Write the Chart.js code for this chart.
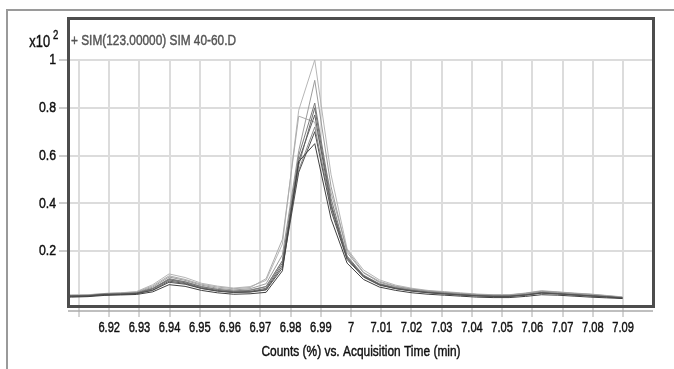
<!DOCTYPE html>
<html>
<head>
<meta charset="utf-8">
<script src="https://cdn.jsdelivr.net/npm/chart.js@4"></script>
<style>
  html, body { margin: 0; padding: 0; background: #fff; }
  #wrap { width: 674px; height: 369px; }
</style>
</head>
<body>
<div id="wrap"><canvas id="chart" width="674" height="369"></canvas></div>
<script>
// acquisition times (min), one scan every ~0.0054 min
const times = [6.9022, 6.9076, 6.9130, 6.9183, 6.9237, 6.9290, 6.9344, 6.9398, 6.9451, 6.9505,
  6.9558, 6.9612, 6.9666, 6.9719, 6.9773, 6.9827, 6.9880, 6.9934, 6.9987, 7.0041,
  7.0094, 7.0148, 7.0202, 7.0255, 7.0309, 7.0362, 7.0416, 7.0470, 7.0523, 7.0577,
  7.0630, 7.0684, 7.0738, 7.0791, 7.0845, 7.0898];

// counts (x10^2), one array per overlaid run
const run1 = [0.007, 0.008, 0.010, 0.015, 0.017, 0.019, 0.030, 0.060, 0.053, 0.036, 0.026, 0.020, 0.022, 0.028, 0.118, 0.575,
  0.650, 0.335, 0.150, 0.082, 0.050, 0.036, 0.026, 0.020, 0.016, 0.012, 0.008, 0.006, 0.006, 0.011, 0.018, 0.016, 0.012, 0.008, 0.005, 0.002];
const run2 = [0.012, 0.012, 0.013, 0.019, 0.020, 0.023, 0.036, 0.070, 0.062, 0.044, 0.033, 0.027, 0.029, 0.038, 0.130, 0.530,
  0.700, 0.370, 0.165, 0.092, 0.058, 0.043, 0.033, 0.026, 0.021, 0.017, 0.013, 0.011, 0.011, 0.016, 0.025, 0.021, 0.017, 0.013, 0.009, 0.004];
const run3 = [0.010, 0.011, 0.012, 0.018, 0.019, 0.022, 0.038, 0.075, 0.065, 0.045, 0.034, 0.028, 0.030, 0.040, 0.140, 0.580,
  0.770, 0.390, 0.170, 0.095, 0.060, 0.044, 0.034, 0.027, 0.022, 0.017, 0.014, 0.011, 0.011, 0.017, 0.025, 0.022, 0.017, 0.013, 0.009, 0.004];
const run4 = [0.013, 0.013, 0.014, 0.020, 0.021, 0.024, 0.042, 0.080, 0.068, 0.048, 0.036, 0.030, 0.032, 0.045, 0.150, 0.560,
  0.800, 0.400, 0.175, 0.098, 0.061, 0.045, 0.035, 0.028, 0.023, 0.018, 0.014, 0.012, 0.012, 0.018, 0.026, 0.023, 0.018, 0.014, 0.010, 0.005];
const run5 = [0.011, 0.012, 0.014, 0.019, 0.021, 0.025, 0.044, 0.085, 0.072, 0.052, 0.040, 0.032, 0.036, 0.052, 0.160, 0.600,
  0.820, 0.420, 0.180, 0.100, 0.063, 0.047, 0.036, 0.029, 0.024, 0.019, 0.015, 0.012, 0.012, 0.018, 0.027, 0.023, 0.018, 0.014, 0.010, 0.005];
const run6 = [0.014, 0.014, 0.015, 0.021, 0.023, 0.026, 0.045, 0.082, 0.072, 0.052, 0.040, 0.034, 0.038, 0.052, 0.160, 0.540,
  0.720, 0.385, 0.172, 0.097, 0.064, 0.048, 0.038, 0.030, 0.025, 0.020, 0.016, 0.013, 0.013, 0.019, 0.028, 0.024, 0.020, 0.016, 0.011, 0.006];
const run7 = [0.015, 0.014, 0.016, 0.021, 0.023, 0.027, 0.050, 0.092, 0.078, 0.058, 0.045, 0.038, 0.043, 0.064, 0.185, 0.620,
  0.915, 0.470, 0.195, 0.110, 0.070, 0.052, 0.041, 0.033, 0.028, 0.023, 0.019, 0.016, 0.016, 0.023, 0.032, 0.028, 0.023, 0.019, 0.013, 0.007];
const run8 = [0.017, 0.017, 0.018, 0.023, 0.026, 0.029, 0.055, 0.097, 0.082, 0.062, 0.050, 0.043, 0.048, 0.085, 0.250, 0.765,
  0.740, 0.445, 0.205, 0.112, 0.074, 0.054, 0.042, 0.034, 0.029, 0.024, 0.019, 0.017, 0.017, 0.024, 0.033, 0.029, 0.024, 0.020, 0.014, 0.008];
const run9 = [0.016, 0.016, 0.017, 0.023, 0.026, 0.031, 0.060, 0.105, 0.090, 0.066, 0.054, 0.046, 0.052, 0.078, 0.230, 0.790,
  1.000, 0.520, 0.210, 0.122, 0.080, 0.058, 0.045, 0.036, 0.031, 0.026, 0.021, 0.018, 0.018, 0.025, 0.035, 0.030, 0.025, 0.021, 0.015, 0.009];

const runColors = ['#404040', '#505050', '#606060', '#6e6e6e', '#7c7c7c', '#8c8c8c', '#9c9c9c', '#acacac', '#b6b6b6'];

const xTicks = [6.91, 6.92, 6.93, 6.94, 6.95, 6.96, 6.97, 6.98, 6.99, 7.00,
  7.01, 7.02, 7.03, 7.04, 7.05, 7.06, 7.07, 7.08, 7.09];
const xTickLabels = ['', '6.92', '6.93', '6.94', '6.95', '6.96', '6.97', '6.98', '6.99', '7',
  '7.01', '7.02', '7.03', '7.04', '7.05', '7.06', '7.07', '7.08', '7.09'];
const yTicks = [0.2, 0.4, 0.6, 0.8, 1.0];
const yTickLabels = ['0.2', '0.4', '0.6', '0.8', '1'];

const FONT = '"Liberation Sans", Arial, sans-serif';

const runs = [run1, run2, run3, run4, run5, run6, run7, run8, run9];
const datasets = runs.map((r, i) => ({
  data: r.map((y, j) => ({ x: times[j], y: y })),
  borderColor: runColors[i],
  borderWidth: 1,
  pointRadius: 0,
  tension: 0,
  fill: false
}));

// the original uses a condensed, slightly heavy face: squeeze sideways and thicken a bit
function narrowText(ctx, text, x, y, size, squeeze, align, color) {
  ctx.save();
  ctx.font = size + 'px ' + FONT;
  ctx.fillStyle = color;
  ctx.strokeStyle = color;
  ctx.lineWidth = 0.45;
  ctx.textBaseline = 'middle';
  ctx.textAlign = align;
  ctx.translate(x, y);
  ctx.scale(squeeze, 1);
  ctx.fillText(text, 0, 0);
  ctx.strokeText(text, 0, 0);
  ctx.restore();
}

const framePlugin = {
  id: 'frame',
  beforeDraw(chart) {
    const ctx = chart.ctx;
    ctx.save();
    ctx.fillStyle = '#fff';
    ctx.fillRect(0, 0, chart.width, chart.height);
    ctx.strokeStyle = '#9a9a9a';
    ctx.lineWidth = 2;
    ctx.beginPath();
    ctx.moveTo(7, chart.height);
    ctx.lineTo(7, 10);
    ctx.lineTo(chart.width, 10);
    ctx.stroke();
    ctx.restore();
  },
  afterDraw(chart) {
    const ctx = chart.ctx;
    const a = chart.chartArea;
    const sx = chart.scales.x;
    const sy = chart.scales.y;
    ctx.save();
    // axis line under the box
    ctx.strokeStyle = '#aaaaaa';
    ctx.lineWidth = 1.5;
    ctx.beginPath();
    ctx.moveTo(a.left - 1, 311);
    ctx.lineTo(a.right, 311);
    ctx.stroke();
    // dark box
    ctx.strokeStyle = '#4d4d4d';
    ctx.lineWidth = 3;
    ctx.strokeRect(a.left - 0.5, 18.5, a.right - a.left + 1, a.bottom + 1.5 - 18.5);
    ctx.restore();

    xTicks.forEach((v, i) => {
      if (xTickLabels[i]) narrowText(ctx, xTickLabels[i], sx.getPixelForValue(v), 328, 15, 0.74, 'center', '#111');
    });
    yTicks.forEach((v, i) => {
      narrowText(ctx, yTickLabels[i], 56, sy.getPixelForValue(v), 15, 0.82, 'right', '#111');
    });
    narrowText(ctx, 'Counts (%) vs. Acquisition Time (min)', (a.left + a.right) / 2, 352, 15.5, 0.77, 'center', '#111');
    narrowText(ctx, '+ SIM(123.00000) SIM 40-60.D', 71, 41, 15, 0.79, 'left', '#555');
    narrowText(ctx, 'x10', 50, 43, 16, 0.8, 'right', '#111');
    narrowText(ctx, '2', 53, 36, 12, 0.8, 'left', '#111');
  }
};

new Chart(document.getElementById('chart'), {
  type: 'line',
  data: { datasets: datasets },
  options: {
    responsive: false,
    animation: false,
    layout: { padding: { top: 60, right: 21, left: 0, bottom: 0 } },
    plugins: { legend: { display: false }, tooltip: { enabled: false } },
    scales: {
      x: {
        type: 'linear',
        min: 6.9067,
        max: 7.0999,
        afterBuildTicks: s => { s.ticks = xTicks.map(v => ({ value: v })); },
        afterFit: s => { s.height = 64; },
        grid: { color: '#dcdcdc', lineWidth: 2, tickLength: 12, tickColor: '#aaaaaa', tickWidth: 1 },
        border: { display: false },
        ticks: { display: false }
      },
      y: {
        min: -0.025,
        max: 1,
        afterBuildTicks: s => { s.ticks = yTicks.map(v => ({ value: v })); },
        afterFit: s => { s.width = 69; },
        grid: { color: '#dcdcdc', lineWidth: 2, tickLength: 10, tickColor: '#9a9a9a', tickWidth: 1 },
        border: { display: false },
        ticks: { display: false }
      }
    }
  },
  plugins: [framePlugin]
});
</script>
</body>
</html>
